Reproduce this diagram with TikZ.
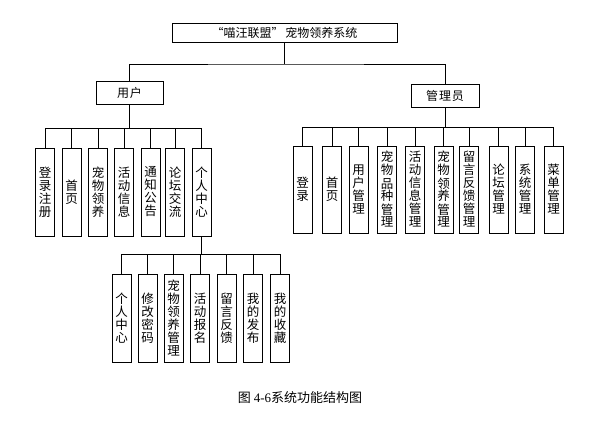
\documentclass[tikz,border=0pt]{standalone}
\usepackage{fontspec}
\newfontfamily\cjk{Noto Sans CJK SC}
\newfontfamily\serifnum{Liberation Serif}
\begin{document}
\begin{tikzpicture}[x=1pt,y=-1pt,
  line width=0.9pt,
  hbox/.style={draw, inner sep=0pt, font=\cjk\fontsize{12}{13}\selectfont},
  vbox/.style={draw, minimum width=19pt, minimum height=88pt, inner sep=0pt, align=center, font=\cjk\fontsize{12.5}{13}\selectfont},
  conn/.style={draw, line width=0.9pt}]
\useasboundingbox (0,0) rectangle (599,426);
% top
\node[hbox, minimum width=225pt, minimum height=19pt] (root) at (284.5,32.5) {“喵汪联盟”{\kern2pt}宠物领养系统};
\node[hbox, minimum width=67pt, minimum height=23pt] (user) at (129.5,92.5) {用{\kern1pt}户};
\node[hbox, minimum width=68pt, minimum height=23pt] (admin) at (445,95.5) {管{\kern1pt}理{\kern1pt}员};
\coordinate (rootbus) at (284.5,64);
\draw[conn] (root.south) -- (rootbus);
\draw[conn] (user.north) |- (rootbus) -| (admin.north);
% user children
\node[vbox] (u1) at (45,192) {登\\录\\注\\册};
\node[vbox] (u2) at (71.5,192) {首\\页};
\node[vbox] (u3) at (98,192) {宠\\物\\领\\养};
\node[vbox] (u4) at (124,192) {活\\动\\信\\息};
\node[vbox] (u5) at (150.5,192) {通\\知\\公\\告};
\node[vbox] (u6) at (175,192) {论\\坛\\交\\流};
\node[vbox] (u7) at (201.5,192) {个\\人\\中\\心};
\foreach \c in {u1,u2,u3,u4,u5,u6,u7}
  \draw[conn] (\c.north) |- (user.south |- 0,128) -- (user.south);
% admin children
\node[vbox, minimum height=87pt] (a1) at (302.5,189.5) {登\\录};
\node[vbox, minimum height=87pt] (a2) at (332,189.5) {首\\页};
\node[vbox, minimum height=87pt] (a3) at (358.5,189.5) {用\\户\\管\\理};
\node[vbox, minimum height=87pt] (a4) at (387,189.5) {宠\\物\\品\\种\\管\\理};
\node[vbox, minimum height=87pt] (a5) at (415,189.5) {活\\动\\信\\息\\管\\理};
\node[vbox, minimum height=87pt] (a6) at (443.5,189.5) {宠\\物\\领\\养\\管\\理};
\node[vbox, minimum height=87pt] (a7) at (469,189.5) {留\\言\\反\\馈\\管\\理};
\node[vbox, minimum height=87pt] (a8) at (498.5,189.5) {论\\坛\\管\\理};
\node[vbox, minimum height=87pt] (a9) at (525,189.5) {系\\统\\管\\理};
\node[vbox, minimum height=87pt] (a10) at (553.5,189.5) {菜\\单\\管\\理};
\foreach \c in {a1,a2,a3,a4,a5,a6,a7,a8,a9,a10}
  \draw[conn] (\c.north) |- (admin.south |- 0,127) -- (admin.south);
% personal center children
\node[vbox] (p1) at (121.5,318) {个\\人\\中\\心};
\node[vbox] (p2) at (147.5,318) {修\\改\\密\\码};
\node[vbox] (p3) at (173.5,318) {宠\\物\\领\\养\\管\\理};
\node[vbox] (p4) at (200,318) {活\\动\\报\\名};
\node[vbox] (p5) at (226.5,318) {留\\言\\反\\馈};
\node[vbox] (p6) at (253,318) {我\\的\\发\\布};
\node[vbox] (p7) at (280,318) {我\\的\\收\\藏};
\foreach \c in {p1,p2,p3,p4,p5,p6,p7}
  \draw[conn] (\c.north) |- (u7.south |- 0,254) -- (u7.south);
% caption
\node[font=\cjk\fontsize{13}{15}\selectfont, inner sep=0pt] (cap) at (300,398) {图 {\serifnum 4-6}系统功能结构图};
\end{tikzpicture}
\end{document}
